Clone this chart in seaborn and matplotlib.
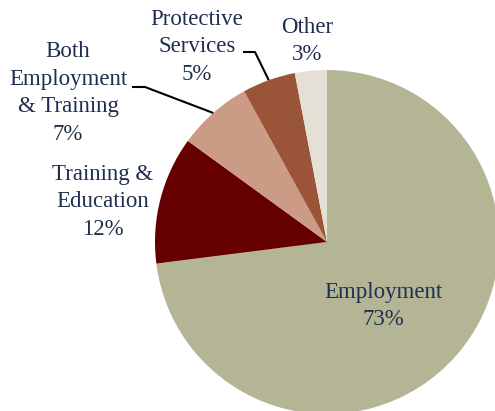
import numpy as np
import matplotlib
matplotlib.use("Agg")
import matplotlib.pyplot as plt
import seaborn as sns

categories = ["Employment", "Training &\nEducation", "Both\nEmployment\n& Training", "Protective\nServices", "Other"]
values = [73, 12, 7, 5, 3]
pct_labels = ["73%", "12%", "7%", "5%", "3%"]
colors = ["#b3b595", "#660000", "#cb9b86", "#9a5438", "#e5e0d6"]

sns.set_theme(style="white")
plt.rcParams["font.family"] = ["Liberation Serif", "DejaVu Serif"]

W, H = 495, 411
fig = plt.figure(figsize=(W / 100, H / 100), dpi=100)
ax = fig.add_axes([0, 0, 1, 1])

cx, cy, r = 327, H - 242, 172
wedges, _ = ax.pie(values, colors=sns.color_palette(colors), startangle=90, counterclock=False,
                   center=(cx, cy), radius=r, frame=True,
                   wedgeprops=dict(linewidth=0))
ax.set_xlim(0, W)
ax.set_ylim(0, H)
ax.set_aspect("equal")
ax.axis("off")

txt_color = "#1f2f4f"
fs = 16.5
# label layout (pixel positions of text centers)
label_pos = [(383, 306), (103, 202), (68, 93), (197, 47), (307, 41)]
for cat, pct, (x, y) in zip(categories, pct_labels, label_pos):
    ax.text(x, H - y, f"{cat}\n{pct}", ha="center", va="center", fontsize=fs,
            color=txt_color, linespacing=1.4)

# leader lines to wedge mid-points on the edge
def edge_point(w):
    ang = np.deg2rad((w.theta1 + w.theta2) / 2)
    return cx + r * np.cos(ang), cy + r * np.sin(ang)

leaders = {2: [(132, 87), (145, 87)], 3: [(243, 52), (255, 52)]}
for i, pts in leaders.items():
    ex, ey = edge_point(wedges[i])
    xs = [p[0] for p in pts] + [ex]
    ys = [H - p[1] for p in pts] + [ey]
    ax.plot(xs, ys, color="black", lw=1.5, solid_capstyle="butt")

fig.savefig("out.png", dpi=100)
